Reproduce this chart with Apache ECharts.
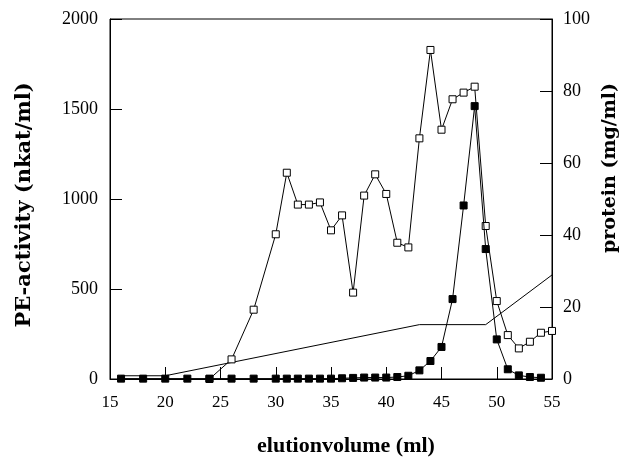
<!DOCTYPE html>
<html>
<head>
<meta charset="utf-8">
<script src="https://cdn.jsdelivr.net/npm/echarts@6/dist/echarts.min.js"></script>
<style>
  html, body { margin: 0; padding: 0; background: #fff; }
  #chart { width: 619px; height: 461px; }
</style>
</head>
<body>
<div id="chart"></div>
<script>
// PE-activity (open squares, left axis, nkat/ml)
var activityX = [24, 26, 28, 30, 31, 32, 33, 34, 35, 36, 37, 38, 39, 40, 41, 42, 43, 44, 45, 46, 47, 48, 49, 50, 51, 52, 53, 54, 55]
var activityY = [0, 109, 385, 804, 1146, 969, 969, 981, 826, 909, 480, 1019, 1137, 1028, 757, 731, 1337, 1828, 1385, 1554, 1591, 1624, 850, 433, 244, 170, 207, 257, 267]

// protein (filled squares, right axis, mg/ml)
var proteinX = [16, 18, 20, 22, 24, 26, 28, 30, 31, 32, 33, 34, 35, 36, 37, 38, 39, 40, 41, 42, 43, 44, 45, 46, 47, 48, 49, 50, 51, 52, 53, 54]
var proteinY = [0.1, 0.1, 0.1, 0.1, 0.1, 0.1, 0.1, 0.1, 0.1, 0.1, 0.1, 0.1, 0.1, 0.2, 0.3, 0.4, 0.4, 0.4, 0.55, 0.9, 2.4, 5.0, 8.9, 22.2, 48.2, 75.8, 36.1, 11.0, 2.7, 1.0, 0.55, 0.35]

// gradient (plain line, right axis)
var gradientX = [16, 20, 43, 49, 55]
var gradientY = [0.9, 0.9, 15.1, 15.1, 28.9]

function pairs (xs, ys) {
  return xs.map(function (x, i) { return [x, ys[i]] })
}

var font = 'Liberation Serif'
var titleFont = 'DejaVu Serif'
var chart = echarts.init(document.getElementById('chart'))
var option = {
  animation: false,
  backgroundColor: '#fff',
  grid: {
    left: 110,
    right: 67,
    top: 19,
    bottom: 82,
    outerBoundsMode: 'none',
    containLabel: false,
    show: true,
    borderColor: '#000',
    borderWidth: 1
  },
  xAxis: {
    type: 'value',
    min: 15,
    max: 55,
    interval: 5,
    name: 'elutionvolume (ml)',
    nameLocation: 'middle',
    nameGap: 56,
    nameTextStyle: { fontFamily: font, fontSize: 22, fontWeight: 'bold', color: '#000', padding: [0, 0, 0, 30] },
    axisLine: { lineStyle: { color: '#000', width: 1 } },
    axisTick: { inside: true, length: 12, lineStyle: { color: '#000' } },
    axisLabel: { fontFamily: font, fontSize: 17, color: '#000', margin: 15 },
    splitLine: { show: false }
  },
  yAxis: [
    {
      type: 'value',
      min: 0,
      max: 2000,
      interval: 500,
      name: 'PE-activity (nkat/ml)',
      nameLocation: 'middle',
      nameRotate: 90,
      nameGap: 75,
      nameTextStyle: { fontFamily: titleFont, fontSize: 21, fontWeight: 'bold', color: '#000', padding: [0, 12, 0, 0] },
      axisLine: { show: true, lineStyle: { color: '#000', width: 1 } },
      axisTick: { show: true, inside: true, length: 12, lineStyle: { color: '#000' } },
      axisLabel: { fontFamily: font, fontSize: 18, color: '#000', margin: 12, formatter: function (v) { return String(v) } },
      splitLine: { show: false }
    },
    {
      type: 'value',
      min: 0,
      max: 100,
      interval: 20,
      position: 'right',
      name: 'protein (mg/ml)',
      nameLocation: 'middle',
      nameRotate: 90,
      nameGap: 46,
      nameTextStyle: { fontFamily: titleFont, fontSize: 19, fontWeight: 'bold', color: '#000', padding: [0, 0, 0, 62] },
      axisLine: { show: true, lineStyle: { color: '#000', width: 1 } },
      axisTick: { show: true, inside: true, length: 12, lineStyle: { color: '#000' } },
      axisLabel: { fontFamily: font, fontSize: 18, color: '#000', margin: 11 },
      splitLine: { show: false }
    }
  ],
  series: [
    {
      name: 'gradient',
      type: 'line',
      yAxisIndex: 1,
      data: pairs(gradientX, gradientY),
      showSymbol: false,
      lineStyle: { color: '#000', width: 1 },
      z: 1
    },
    {
      name: 'PE-activity',
      type: 'line',
      yAxisIndex: 0,
      data: pairs(activityX, activityY),
      symbol: 'rect',
      symbolSize: 7,
      itemStyle: { color: '#fff', borderColor: '#000', borderWidth: 1 },
      lineStyle: { color: '#000', width: 1 },
      z: 2
    },
    {
      name: 'protein',
      type: 'line',
      yAxisIndex: 1,
      data: pairs(proteinX, proteinY),
      symbol: 'rect',
      symbolSize: 7,
      itemStyle: { color: '#000', borderColor: '#000', borderWidth: 1 },
      lineStyle: { color: '#000', width: 1 },
      z: 3
    }
  ]
}
chart.setOption(option)
</script>
</body>
</html>
